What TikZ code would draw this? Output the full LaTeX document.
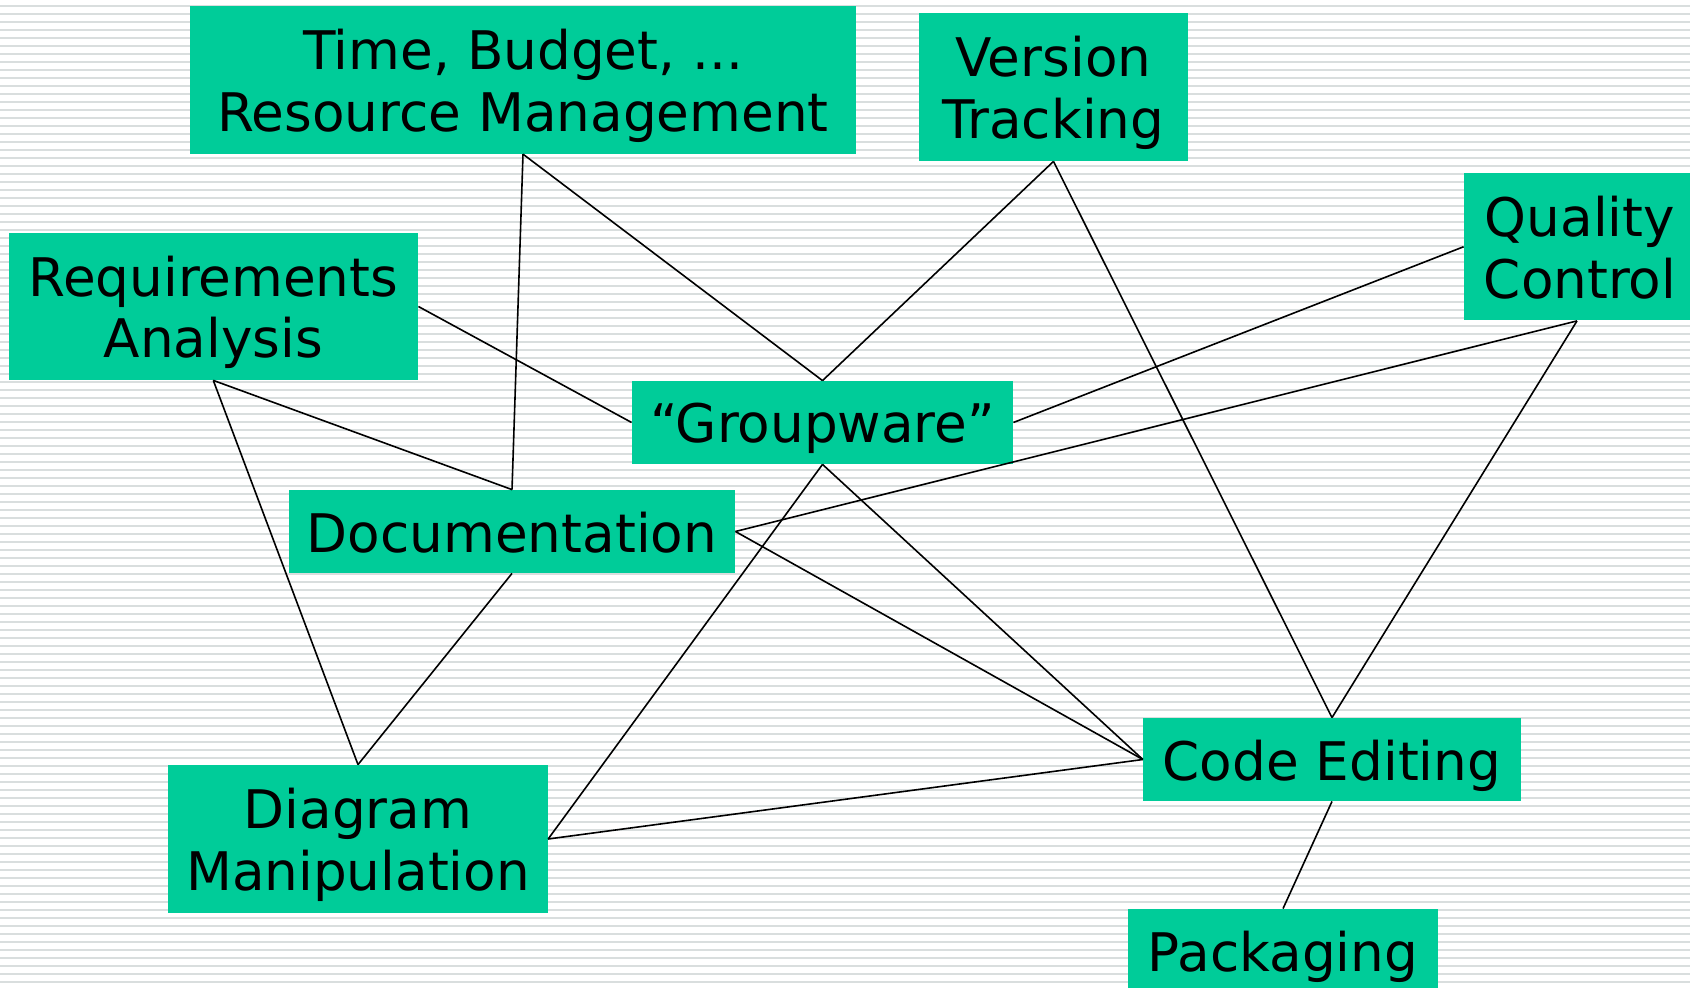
\documentclass[tikz,border=0pt]{standalone}
\usepackage{fontspec}
\setmainfont{DejaVu Sans}
\definecolor{boxgreen}{HTML}{00CC99}
\definecolor{stripegrey}{HTML}{D9DEDE}
\begin{document}
\begin{tikzpicture}[x=0.5pt,y=-0.5pt,
  box/.style={fill=boxgreen, draw=none, inner sep=0pt},
  boxtext/.style={inner sep=0pt, align=center,
    font=\fontsize{26.6}{30.7}\selectfont},
  link/.style={draw=black, line width=0.8pt}]
\useasboundingbox (0,0) rectangle (1690,988);
\clip (0,0) rectangle (1690,988);
% ruled background
\foreach \i in {0,...,122}
  \fill[stripegrey] (0,{5+8*\i}) rectangle (1690,{6.8+8*\i});

% topic boxes
\node[box, minimum width=333pt, minimum height=73.75pt] (time) at (523,80) {};
\node[box, minimum width=134.5pt, minimum height=74pt] (version) at (1053.5,87) {};
\node[box, minimum width=113pt, minimum height=73.75pt] (quality) at (1577,246.75) {};
\node[box, minimum width=204.7pt, minimum height=73.5pt] (req) at (213.3,306.5) {};
\node[box, minimum width=190.5pt, minimum height=41.5pt] (group) at (822.5,422.5) {};
\node[box, minimum width=223pt, minimum height=41.5pt] (doc) at (512,531.5) {};
\node[box, minimum width=188.75pt, minimum height=41.5pt] (code) at (1332,759.5) {};
\node[box, minimum width=189.75pt, minimum height=74pt] (diagram) at (358,839) {};
\node[box, minimum width=155pt, minimum height=41.5pt] (pack) at (1283,950.5) {};

% box labels
\node[boxtext] (timeT) at ([yshift=-3pt]time.center) {Time, Budget, ...\\Resource Management};
\node[boxtext] (versionT) at ([yshift=-3pt]version.center) {Version\\Tracking};
\node[boxtext] (qualityT) at ([xshift=1.5pt,yshift=-0.5pt]quality.center) {Quality\\Control};
\node[boxtext] (reqT) at ([yshift=-3pt]req.center) {Requirements\\Analysis};
\node[boxtext] (groupT) at ([yshift=-3pt]group.center) {“Groupware”};
\node[boxtext] (docT) at ([yshift=-0.8pt]doc.center) {Documentation};
\node[boxtext] (codeT) at ([yshift=-3pt]code.center) {Code Editing};
\node[boxtext] (diagramT) at ([yshift=-3pt]diagram.center) {Diagram\\Manipulation};
\node[boxtext] (packT) at ([yshift=-3pt]pack.center) {Packaging};

% connections
\draw[link] (time.south) -- (doc.north);
\draw[link] (time.south) -- (group.north);
\draw[link] (version.south) -- (group.north);
\draw[link] (version.south) -- (code.north);
\draw[link] (req.east) -- (group.west);
\draw[link] (req.south) -- (doc.north);
\draw[link] (req.south) -- (diagram.north);
\draw[link] (quality.west) -- (group.east);
\draw[link] (quality.south) -- (doc.east);
\draw[link] (quality.south) -- (code.north);
\draw[link] (group.south) -- (diagram.east);
\draw[link] (group.south) -- (code.west);
\draw[link] (doc.east) -- (code.west);
\draw[link] (doc.south) -- (diagram.north);
\draw[link] (diagram.east) -- (code.west);
\draw[link] (code.south) -- (pack.north);
\end{tikzpicture}
\end{document}
